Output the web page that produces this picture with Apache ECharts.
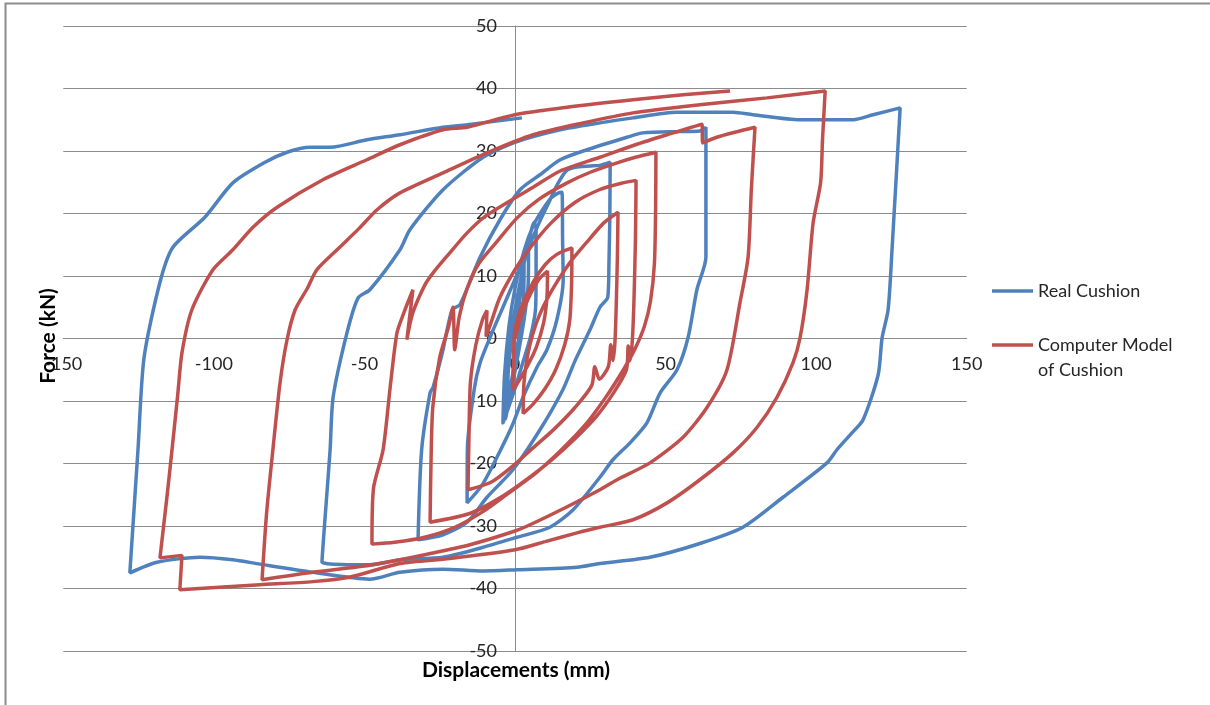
<!DOCTYPE html>
<html>
<head>
<meta charset="utf-8">
<script src="https://cdn.jsdelivr.net/npm/echarts@6/dist/echarts.min.js"></script>
<style>
html,body{margin:0;padding:0;background:#fff;}
#chart{width:1210px;height:705px;}
</style>
</head>
<body>
<div id="chart"></div>
<script>
// Tick values
const xTicks = [-150, -100, -50, 0, 50, 100, 150];
const yTicks = [-50, -40, -30, -20, -10, 0, 10, 20, 30, 40, 50];

// Real Cushion: [displacement mm, force kN] in path order
const realCushion = [
  [0,0],[1.5,6],[2.5,10],[3,12],[2.8,6],[1.5,1],[-0.5,-5],[-2,-9],[-2.5,-11],[-2.2,-5],[-0.5,2],[1.5,8],[3.5,14],[4.5,16],[4.4,9],[3,3],[0.5,-4],[-1.5,-9],[-3,-12.5],[-3.3,-13],[-3,-7],[-1.5,0],[0.5,6],[3,12],[5,16.5],[6.3,18.6],[7,17.8],[7,10],[6.8,4.6],[5,0],[2.5,-4],[0,-8],[-2.5,-11.5],[-4,-13.5],
  [-3.5,-6],[-2,2],[0,8],[3,14],[6,18],[9,20.5],[12,22.5],[14.5,23.3],[15.6,23.4],
  [15.8,16],[16,9.4],[13.9,3],[10.6,-1.8],[7.3,-4.6],[3,-9],[-1,-14],[-6,-19],[-11,-23.5],[-15.9,-26.3],
  [-15.8,-17.4],[-13.5,-8],[-11.6,-3.9],[-8,0.5],[-4,5],[0,9.5],[4,14],[8,18.5],[11,21.5],[13.9,24.5],[17,26.8],[20,27.4],[25,27.6],[28.2,27.7],[31.6,28.2],
  [31.5,20],[31.2,12],[30.8,6.6],[28.2,5],[24.9,1.4],[20,-3.5],[15.9,-8.2],[8.3,-14.6],[-0.7,-21],[-9.3,-25.4],[-15.9,-29.4],[-23.9,-31.4],[-32.2,-32.2],
  [-31,-17.8],[-28.2,-8.7],[-27.2,-7.8],[-24,-2],[-20.9,4.6],[-18.3,5.4],[-11.6,13],[-5,19],[1.7,23.8],[8.3,26.2],[15,28.6],[23.9,30.2],[37.2,32.2],[42.5,32.9],[55,33.1],[61.4,33.2],[63.4,33.8],
  [63.4,25],[63.4,13],[60.4,7.8],[57.5,0.2],[53.8,-5],[48.2,-8.7],[43.8,-13.5],[38.2,-16.7],[32.5,-19.4],[28.2,-22.2],[19.3,-27.4],[11.6,-30.2],[0.7,-31.8],[-10.6,-33.4],[-23.9,-35],[-38.2,-35.4],[-48.2,-36.2],[-64.1,-35.8],
  [-61.4,-17.8],[-60.4,-9.4],[-55.8,0.9],[-52.1,6.5],[-48.2,7.8],[-38.2,14.2],[-34.9,17.4],[-23.9,23.8],[-10.6,29],[0,31.4],[15,33.4],[28.2,34.5],[39.2,35.3],[53.8,36.2],[72.4,36.2],[79,35.8],[94.7,35],[112.3,35],[118.9,35.8],[127.9,36.9],
  [125.2,14.2],[123.9,4.6],[121.9,0.1],[120.6,-5.8],[115.6,-13],[111.9,-15.1],[106.9,-17.8],[103.6,-19.9],[89,-25.4],[75.7,-30.2],[61.4,-32.8],[44.8,-35],[28.2,-36],[20.6,-36.6],[0.7,-37],[-10.6,-37.2],[-23.9,-36.9],[-38.2,-37.4],[-48.2,-38.5],[-67.1,-37.4],[-84.7,-36.1],[-93.7,-35.4],[-104.6,-35],[-118.9,-35.8],[-127.9,-37.5],
  [-125.2,-17.8],[-123.2,-3.1],[-117.9,9],[-113.6,14.6],[-103,19.4],[-93.7,24.9],[-83,28.2],[-75.7,29.8],[-68.1,30.6],[-61.4,30.6],[-49.2,31.8],[-38.2,32.6],[-23.9,33.8],[-15.9,34.2],[2.3,35.3]
];

// Computer Model of Cushion: [displacement mm, force kN] in path order
const computerModel = [
  [0,0],[2,3.5],[5,7],[8,9.5],[10.8,10.8],[10.6,6.5],[9.5,2.5],[7,-1.5],[4,-4.5],[1,-7],[-0.7,-8.2],
  [-0.5,-3],[0,1.4],[2.5,5.5],[6,9],[10,11.8],[14,13.5],[18.9,14.5],
  [18.8,9],[18.2,3],[16.5,-1],[13.5,-5],[10,-8],[6,-10.5],[2.7,-12],
  [3,-7],[4.5,-2],[7.5,3],[12,7.5],[18,12],[24,15.5],[29.5,18.5],[34.2,20.2],
  [34,13],[33.6,5],[33.2,-0.5],[32.6,-3.5],[31.8,-1],[31,-4.5],[28,-6.5],[26.5,-4.5],[25.5,-7.5],[20,-11],[13,-14.5],[6,-17.5],[-1,-20.5],[-8,-23],[-15.6,-24.2],
  [-15.3,-16],[-14.8,-7],[-13,-1],[-10.8,3],[-9.3,4.5],[-9.6,0.3],[-8,2.5],[-5,6.6],[0,11],[5,14.5],[12,18.5],[20,21.8],[28,23.8],[35,24.8],[40.2,25.3],
  [40,16],[39.5,6],[39,0],[38.3,-3.5],[37.6,-1.2],[37,-5],[33,-8.5],[27,-12.5],[20,-16],[12,-19.5],[4,-22.5],[-5,-25.5],[-15,-28],[-28.2,-29.4],
  [-27.9,-20],[-27.3,-11],[-25,-3],[-22,2],[-20.6,5],[-20,-1.8],[-18.5,3.5],[-15.9,8],[-12,12],[-6,15.5],[0.7,19.3],[8,22.3],[17.3,24.9],[25,26.6],[33.9,28.1],[40,29],[46.8,29.8],
  [46.7,21],[46.3,12],[45,6],[43,2],[40,-1.5],[36,-5],[30,-9.5],[23,-14],[15,-18],[7,-21.5],[0,-24],[-10,-27.5],[-20,-30.2],[-30,-31.8],[-40,-32.6],[-47.5,-32.9],
  [-47,-24],[-43.8,-17.8],[-41.5,-8],[-39.2,0.9],[-37,4],[-33.9,7.8],[-35.9,-0.2],[-34,4],[-30,8.5],[-27.2,10.5],[-22,13.5],[-15.9,16.9],[-10,19.5],[0,22.5],[6,24.2],[15,26.8],[28.2,29],[40,31],[50.5,32.6],[62.1,34.3],
  [62.3,31.3],[67,32.2],[73,33],[79.7,33.8],
  [78.5,24],[77.4,13],[74.7,5.7],[70.4,-5],[63.8,-11],[55.8,-15.8],[44.8,-19.9],[33.9,-22.6],[28.2,-24.2],[17,-27],[5,-29.8],[0,-30.8],[-15,-33],[-30,-34.6],[-38.2,-35.4],[-50,-36.4],[-67.1,-37.4],[-84,-38.6],
  [-82.5,-28],[-80.4,-17.8],[-78,-7],[-75.7,-0.2],[-73,4.6],[-69,8],[-65.8,11],[-59.1,14.2],[-52,17.5],[-45.8,20.6],[-38.2,23.3],[-23.9,26.5],[-9.3,29.7],[6,32.6],[22.6,34.5],[39.2,36.1],[61.4,37.4],[83.7,38.5],[103,39.6],
  [102.1,31.6],[101.5,25],[99,18.5],[97,7.8],[94.7,0.2],[92.3,-3.9],[87,-9.4],[80.4,-14.2],[72.4,-18.3],[61.4,-22.6],[50.5,-26.3],[39.2,-29],[28.2,-30.2],[20.6,-31.1],[10,-32.5],[0,-33.8],[-21.6,-35.2],[-38.2,-36],[-55,-38.2],[-67.1,-38.9],[-84.7,-39.4],[-111.3,-40.2],
  [-110.6,-34.7],[-117.9,-35.1],
  [-115.5,-25],[-113.9,-17.8],[-112,-9],[-110.6,-2.3],[-107.3,4.6],[-100.3,11],[-93.7,14.2],[-87,17.8],[-79,21],[-63.8,25.4],[-49.2,28.6],[-38.2,31],[-23.9,33.4],[-15.9,33.8],[0,35.8],[17.3,37],[39.2,38.2],[55.8,39],[71.4,39.6]
];

const seriesNames = ['Real Cushion', 'Computer Model of Cushion'];
const seriesColors = ['#4F81BD', '#C0504D'];

const FONT = 'Lato, "Open Sans", sans-serif';
const W = 1210, H = 705;
const G = {left: 63.3, right: 243.3, top: 26, bottom: 54};
const plotW = W - G.left - G.right, plotH = H - G.top - G.bottom;
// offsets that move the axes onto the zero lines (both ranges are symmetric about zero)
const xAxisOffset = -plotH / 2;
const yAxisOffset = -plotW / 2;

const chart = echarts.init(document.getElementById('chart'), null, {renderer: 'canvas'});

chart.setOption({
  animation: false,
  backgroundColor: '#ffffff',
  grid: {left: G.left, right: G.right, top: G.top, bottom: G.bottom, containLabel: false},
  xAxis: {
    type: 'value', position: 'bottom', offset: xAxisOffset,
    min: xTicks[0], max: xTicks[xTicks.length - 1], interval: xTicks[1] - xTicks[0],
    axisLine: {show: true, onZero: false, lineStyle: {color: '#8c8c8c', width: 1}},
    axisTick: {show: false},
    splitLine: {show: false},
    axisLabel: {margin: 17, fontFamily: FONT, fontSize: 18, color: '#262626', showMinLabel: true, showMaxLabel: true}
  },
  yAxis: {
    type: 'value', position: 'left', offset: yAxisOffset,
    min: yTicks[0], max: yTicks[yTicks.length - 1], interval: yTicks[1] - yTicks[0],
    axisLine: {show: true, onZero: false, lineStyle: {color: '#8c8c8c', width: 1}},
    axisTick: {show: false},
    splitLine: {show: true, lineStyle: {color: '#8c8c8c', width: 1}},
    axisLabel: {margin: 18, fontFamily: FONT, fontSize: 18, color: '#262626', showMinLabel: true, showMaxLabel: true}
  },
  legend: [
    {
      data: [seriesNames[0]], orient: 'vertical', left: 992, top: 281, padding: 0,
      icon: 'rect', itemWidth: 41, itemHeight: 3.5, itemGap: 0,
      textStyle: {fontFamily: FONT, fontSize: 18, color: '#262626', lineHeight: 20}
    },
    {
      data: [seriesNames[1]], orient: 'vertical', left: 992, top: 307.5, padding: 0,
      icon: 'rect', itemWidth: 41, itemHeight: 3.5, itemGap: 0,
      formatter: function () { return '\nComputer Model\nof Cushion'; },
      textStyle: {fontFamily: FONT, fontSize: 18, color: '#262626', lineHeight: 25}
    }
  ],
  graphic: [
    {type: 'rect', silent: true, z: -10, shape: {x: 5.5, y: 3.5, width: 1220, height: 720},
     style: {fill: 'none', stroke: '#8c8c8c', lineWidth: 2}},
    {type: 'text', x: 48, y: 336, rotation: Math.PI / 2,
     style: {text: 'Force (kN)', fontFamily: FONT, fontSize: 21, fontWeight: 'bold', fill: '#000', align: 'center', verticalAlign: 'middle'}},
    {type: 'text', x: 516, y: 670,
     style: {text: 'Displacements (mm)', fontFamily: FONT, fontSize: 21, fontWeight: 'bold', fill: '#000', align: 'center', verticalAlign: 'middle'}}
  ],
  series: [
    {name: seriesNames[0], type: 'line', data: realCushion, showSymbol: false, symbol: 'none', smooth: 0.25,
     lineStyle: {color: seriesColors[0], width: 3.5}, itemStyle: {color: seriesColors[0]}, z: 2},
    {name: seriesNames[1], type: 'line', data: computerModel, showSymbol: false, symbol: 'none', smooth: 0.25,
     lineStyle: {color: seriesColors[1], width: 3.5}, itemStyle: {color: seriesColors[1]}, z: 3}
  ]
});
</script>
</body>
</html>
